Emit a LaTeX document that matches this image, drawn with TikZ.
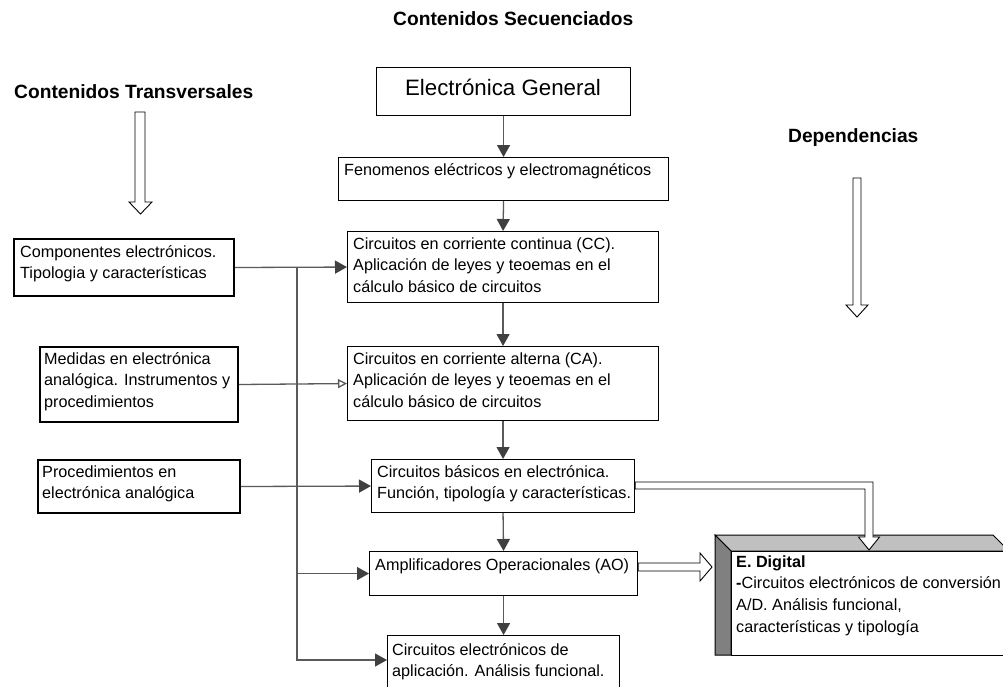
\documentclass[tikz,border=0pt]{standalone}
\usepackage{fontspec}
\setmainfont{Liberation Sans}
\usetikzlibrary{arrows.meta,calc}
\definecolor{lnc}{HTML}{5A5A5A}
\definecolor{tipc}{HTML}{404040}
\definecolor{bevdark}{HTML}{808080}
\definecolor{bevlight}{HTML}{C0C0C0}
\newcommand\mylines[1]{\begin{tabular}[t]{@{}l@{}}#1\end{tabular}}
\begin{document}
\begin{tikzpicture}[x=1pt,y=-1pt,
  font=\fontsize{16.2}{21.8}\selectfont,
  mbox/.style={draw=black,line width=1.1pt,fill=white,inner sep=0,anchor=north west},
  lbox/.style={draw=black,line width=2pt,fill=white,inner sep=0,anchor=north west},
  txt/.style={inner sep=0,anchor=base west},
  ttl/.style={inner sep=0,anchor=base west,font=\fontsize{19.2}{22}\selectfont\bfseries},
  conn/.style={draw=lnc,line width=1.3pt},
  arr/.style={conn,-{Triangle[length=12pt,width=13pt,color=tipc]}},
  oarr/.style={conn,-{Triangle[open,length=9pt,width=9pt,color=lnc,fill=white]}},
  blk/.style={draw=black,fill=white,line width=0.9pt,line join=miter}]
\useasboundingbox (0,0) rectangle (1003,686);
\clip (0,0) rectangle (1003,686);

% titles
\node[ttl] (tsec) at (393,25) {Contenidos Secuenciados};
\node[ttl] (ttra) at (14,98) {Contenidos Transversales};
\node[ttl] (tdep) at (788,142) {Dependencias};

% block arrows under titles
\draw[blk] (135,112) -- (145,112) -- (145,202) -- (152,202) -- (140.5,214) -- (129,202) -- (135,202) -- cycle;
\draw[blk] (853,178) -- (861,178) -- (861,305) -- (868,305) -- (857,317) -- (846,305) -- (853,305) -- cycle;

% main column boxes
\node[mbox,minimum width=254,minimum height=48] (eg) at (376,67) {};
\node[inner sep=0,anchor=base,font=\fontsize{22.3}{26}\selectfont] (egt) at (503,95) {Electrónica General};
\node[mbox,minimum width=330,minimum height=43] (fen) at (338,157) {};
\node[txt] (fent) at (344,175) {Fenomenos eléctricos y electromagnéticos};
\node[mbox,minimum width=311,minimum height=71] (cc) at (347,231) {};
\node[txt] (cct) at (353,249) {\mylines{Circuitos en corriente continua (CC).\\Aplicación de leyes y teoemas en el\\cálculo básico de circuitos}};
\node[mbox,minimum width=311,minimum height=74] (ca) at (347,346) {};
\node[txt] (cat) at (353,364) {\mylines{Circuitos en corriente alterna (CA).\\Aplicación de leyes y teoemas en el\\cálculo básico de circuitos}};
\node[mbox,minimum width=263,minimum height=53] (bas) at (371,459) {};
\node[txt] (bast) at (377,477) {\mylines{Circuitos básicos en electrónica.\\Función, tipología y características.}};
\node[mbox,minimum width=268,minimum height=44] (ao) at (369,551) {};
\node[txt] (aot) at (375,570) {Amplificadores Operacionales (AO)};
\node[mbox,minimum width=232,minimum height=80] (apl) at (387,635) {};
\node[txt] (aplt) at (392,655) {\mylines{Circuitos electrónicos de\\aplicación. Análisis funcional.}};

% left boxes
\node[lbox,minimum width=220,minimum height=57] (comp) at (13,238) {};
\node[txt] (compt) at (20,257) {\mylines{Componentes electrónicos.\\Tipologia y características}};
\node[lbox,minimum width=198,minimum height=75] (med) at (39,346) {};
\node[txt] (medt) at (44,364) {\mylines{Medidas en electrónica\\analógica. Instrumentos y\\procedimientos}};
\node[lbox,minimum width=202,minimum height=53] (proc) at (37,459) {};
\node[txt] (proct) at (42,477) {\mylines{Procedimientos en\\electrónica analógica}};

% vertical arrows
\draw[arr] (eg.south) -- (fen.north);
\draw[arr] (fen.south) -- (cc.north);
\draw[arr] (cc.south) -- (ca.north);
\draw[arr] (ca.south) -- (bas.north);
\draw[arr] (bas.south) -- (ao.north);
\draw[arr] (ao.south) -- (apl.north);

% left connectors
\coordinate (bus) at (297,266.5);
\draw[arr] (comp.east) -- (cc.west);
\draw[oarr] (med.east) -- (ca.west);
\draw[arr] (proc.east) -- (bas.west);
\draw[conn] (bus) -- (bus |- ao.west);
\draw[arr] (bus |- ao.west) -- (ao.west);
\draw[arr] (bus |- ao.west) |- ([yshift=-25pt]apl.north west);

% E. Digital 3D box
\fill[bevlight,draw=black,line width=1pt] (715,535) -- (993,535) -- (1009,551) -- (731,551) -- cycle;
\fill[bevdark,draw=black,line width=1pt] (715,535) -- (731,551) -- (731,655) -- (715,655) -- cycle;
\node[draw=black,fill=white,line width=1pt,inner sep=0,anchor=north west,minimum width=280,minimum height=104] (edig) at (731,551) {};
\node[txt] (edigt) at (736,567) {\mylines{\textbf{E. Digital}\\\textbf{-}Circuitos electrónicos de conversión\\A/D. Análisis funcional,\\características y tipología}};

% hollow (double) arrows to E. Digital
\draw[blk] (bas.east |- 0,482) -- (873,482) -- (873,537) -- (879.5,537) -- (869,550) -- (858.5,537) -- (865,537) -- (865,489) -- (bas.east |- 0,489) -- cycle;
\draw[blk] (ao.east |- 0,563) -- (700,563) -- (700,553) -- (712,567) -- (700,581) -- (700,571) -- (ao.east |- 0,571) -- cycle;
\end{tikzpicture}
\end{document}
